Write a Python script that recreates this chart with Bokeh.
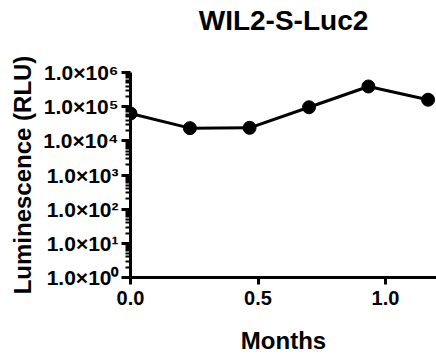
from bokeh.plotting import figure
from bokeh.models import FixedTicker, Range1d, NumeralTickFormatter, LinearAxis
from bokeh.embed import file_html
from bokeh.resources import INLINE

months = [0.0, 0.233, 0.467, 0.7, 0.933, 1.167]
rlu = [6.3e4, 2.35e4, 2.4e4, 9.6e4, 3.9e5, 1.6e5]
y_ticks = [1, 10, 100, 1000, 10000, 100000, 1000000]
y_labels = ["1.0×10⁰", "1.0×10¹", "1.0×10²", "1.0×10³", "1.0×10⁴", "1.0×10⁵", "1.0×10⁶"]
x_ticks = [0.0, 0.5, 1.0]

FONT = "Liberation Sans"

p = figure(width=436, height=356, output_backend="svg", toolbar_location=None,
           y_axis_type="log", x_range=Range1d(0, 1.2), y_range=Range1d(1, 1e6),
           title="WIL2-S-Luc2", min_border_right=0, min_border_top=0,
           min_border_left=130, min_border_bottom=0)
p.outline_line_color = None
p.grid.grid_line_color = None

p.title.text_font = FONT
p.title.text_font_size = "28px"
p.title.text_font_style = "bold"
p.title.text_color = "black"
p.title.align = "center"
p.title.standoff = 5

minor = [m * 10 ** d for d in range(0, 6) for m in range(2, 10)]
p.yaxis.ticker = FixedTicker(ticks=y_ticks, minor_ticks=minor)
p.yaxis.major_label_overrides = {t: l for t, l in zip(y_ticks, y_labels)}
p.xaxis.ticker = FixedTicker(ticks=x_ticks, minor_ticks=[])
p.xaxis.formatter = NumeralTickFormatter(format="0.0")

for ax in (p.xaxis, p.yaxis):
    ax.axis_line_width = 3
    ax.axis_line_color = "black"
    ax.major_tick_line_width = 3
    ax.major_tick_line_color = "black"
    ax.minor_tick_line_width = 2
    ax.minor_tick_line_color = "black"
    ax.major_tick_in = 0
    ax.minor_tick_in = 0
    ax.major_tick_out = 9
    ax.major_label_text_font = FONT
    ax.major_label_text_font_size = "20px"
    ax.major_label_text_font_style = "bold"
    ax.major_label_text_color = "black"
    ax.axis_label_text_font = FONT
    ax.axis_label_text_font_size = "24px"
    ax.axis_label_text_font_style = "bold"
    ax.axis_label_text_color = "black"

p.yaxis.major_label_text_font_size = "21px"
p.yaxis.minor_tick_out = 5
p.xaxis.major_tick_out = 7
p.xaxis.minor_tick_out = 0
p.xaxis.axis_label = "Months"
p.yaxis.axis_label = "Luminescence (RLU)"
p.xaxis.major_label_standoff = 6
p.xaxis.axis_label_standoff = 19
p.yaxis.major_label_standoff = 3
p.yaxis.axis_label_standoff = 4

# invisible spacer between title and plot area
spacer = LinearAxis(ticker=FixedTicker(ticks=[], minor_ticks=[]),
                    axis_line_color=None, major_tick_line_color=None,
                    minor_tick_line_color=None, major_tick_in=0, minor_tick_in=0,
                    major_tick_out=0, minor_tick_out=0, major_label_standoff=0,
                    axis_label=" ", axis_label_standoff=0,
                    axis_label_text_font=FONT, axis_label_text_font_size="28px")
p.add_layout(spacer, "above")

p.line(months, rlu, line_color="black", line_width=3)
p.scatter(months, rlu, size=13, fill_color="black", line_color="black")

open("out.html", "w").write(file_html(p, INLINE))
